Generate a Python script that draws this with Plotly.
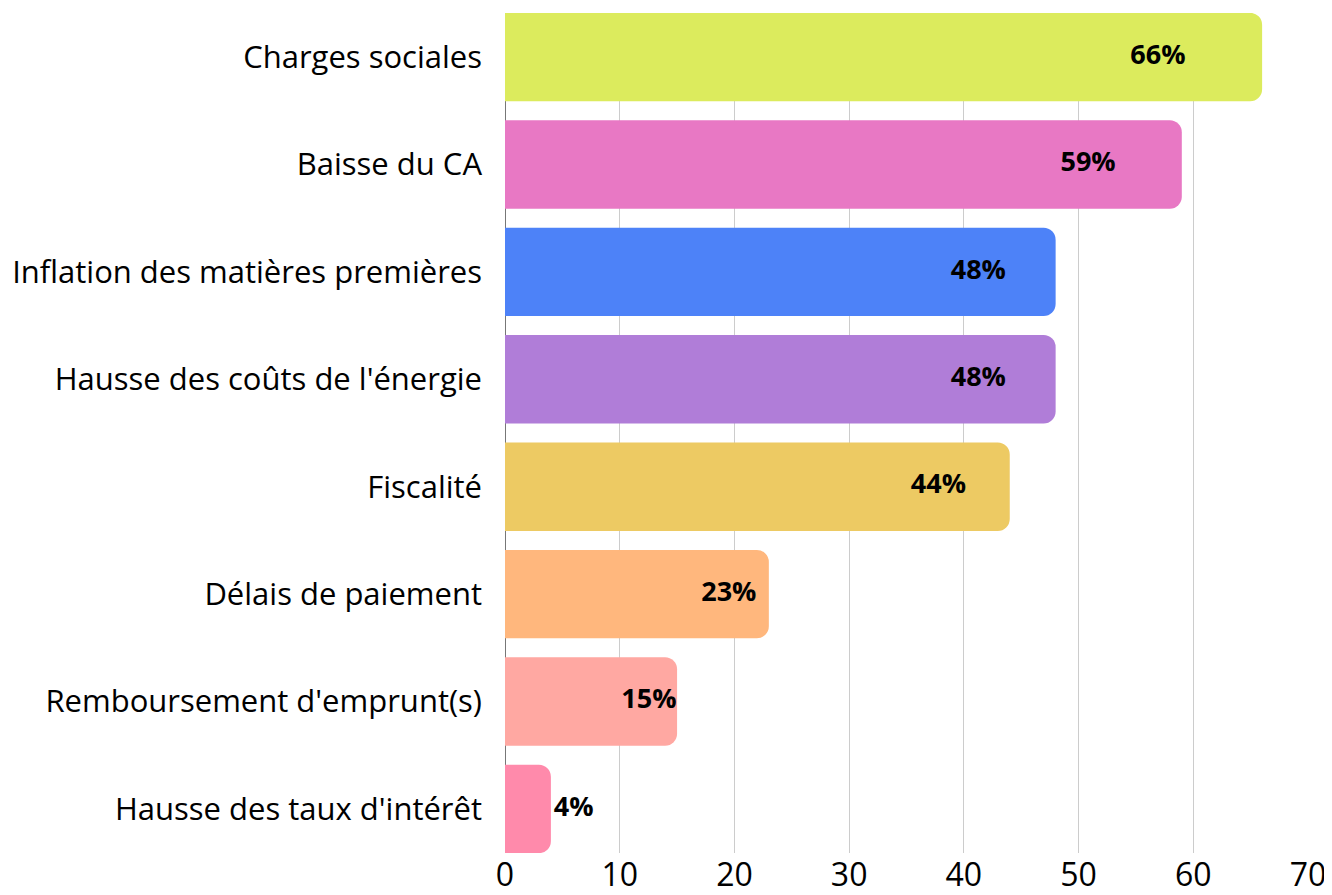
import plotly.graph_objects as go

categories = [
    "Charges sociales",
    "Baisse du CA",
    "Inflation des matières premières",
    "Hausse des coûts de l'énergie",
    "Fiscalité",
    "Délais de paiement",
    "Remboursement d'emprunt(s)",
    "Hausse des taux d'intérêt",
]
values = [66, 59, 48, 48, 44, 23, 15, 4]
colors = ["#DCEB5D", "#E878C4", "#4D82F8", "#B07DD8", "#EDCA63", "#FFB77D", "#FFA8A2", "#FF8AAB"]
x_ticks = [0, 10, 20, 30, 40, 50, 60, 70]

FONT = "Open Sans"

fig = go.Figure()
fig.add_trace(go.Bar(
    x=values, y=categories, orientation="h",
    marker=dict(color=colors, line=dict(width=0)),
    width=0.823, hoverinfo="skip",
))

inside_x, inside_y, inside_t = [], [], []
out_x, out_y, out_t = [], [], []
for c, v in zip(categories, values):
    if v >= 10:
        inside_x.append(0.87 * v - 0.5)
        inside_y.append(c)
        inside_t.append(f"{v}%")
    else:
        out_x.append(v + 0.25)
        out_y.append(c)
        out_t.append(f"{v}%")

lbl_font = dict(family=FONT, size=27, color="#000000", weight="bold")
fig.add_trace(go.Scatter(
    x=inside_x, y=inside_y, text=inside_t, mode="text",
    textposition="middle center", textfont=lbl_font,
    hoverinfo="skip", showlegend=False,
))
fig.add_trace(go.Scatter(
    x=out_x, y=out_y, text=out_t, mode="text",
    textposition="middle right", textfont=lbl_font,
    hoverinfo="skip", showlegend=False,
))

# page body has an 8px margin, so the figure is sized/offset to match
fig.update_layout(
    width=1324, height=887,
    margin=dict(l=497, r=24, t=5, b=42, autoexpand=False),
    paper_bgcolor="white", plot_bgcolor="white",
    showlegend=False,
    barcornerradius=12,
    font=dict(family=FONT, color="#000000"),
    xaxis=dict(
        range=[0, 70], tickvals=x_ticks, ticktext=[str(t) for t in x_ticks],
        showgrid=True, gridcolor="#CCCCCC", gridwidth=1,
        zeroline=True, zerolinecolor="#777777", zerolinewidth=1,
        tickfont=dict(family=FONT, size=32, color="#000000"),
        ticks="", fixedrange=True, automargin=False,
    ),
    yaxis=dict(
        type="category", categoryorder="array", categoryarray=categories,
        range=[7.41, -0.41],
        showgrid=False, zeroline=False,
        tickfont=dict(family=FONT, size=31, color="#000000"),
        ticks="", ticklabelstandoff=22, fixedrange=True, automargin=False,
    ),
)

fig.write_html("out.html")
